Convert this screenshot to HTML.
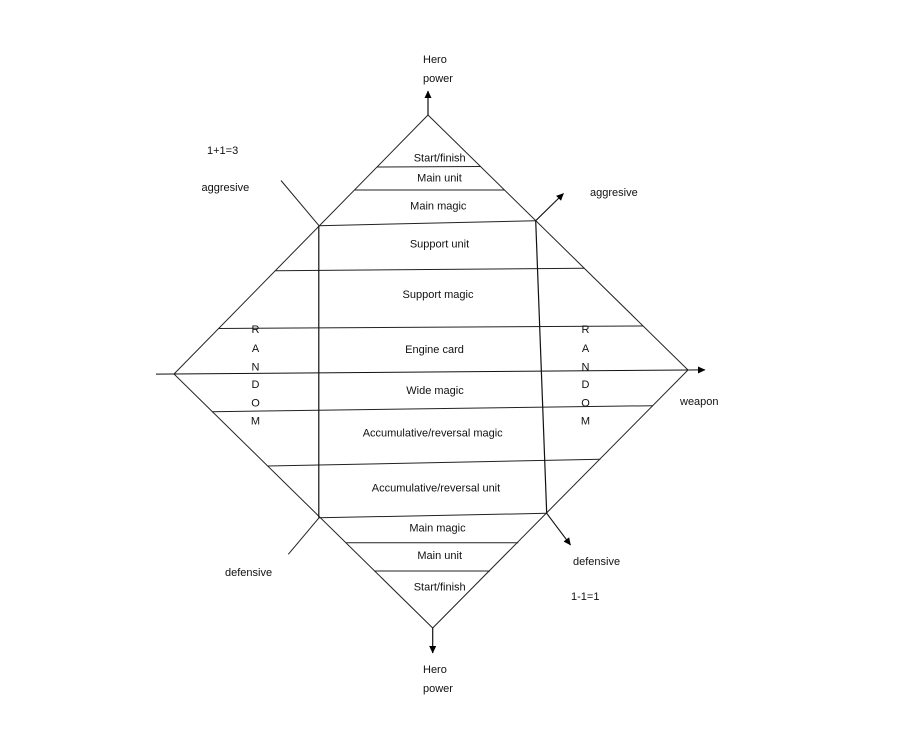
<!DOCTYPE html>
<html>
<head>
<meta charset="utf-8">
<style>
  html, body { margin: 0; padding: 0; background: #fff; }
  svg { display: block; }
  text { font-family: "Liberation Sans", Arial, sans-serif; font-size: 11px; fill: #111; }
</style>
</head>
<body>
<svg width="897" height="745" viewBox="0 0 897 745" xmlns="http://www.w3.org/2000/svg">
  <defs>
    <marker id="ah" markerUnits="userSpaceOnUse" markerWidth="8" markerHeight="8" refX="7" refY="4" orient="auto">
      <path d="M0,0.5 L7.5,4 L0,7.5 z" fill="#000"/>
    </marker>
  </defs>
  <rect x="0" y="0" width="897" height="745" fill="#fff"/>

  <!-- diamond -->
  <polygon points="428,115 688,370 432.7,628 174,374" fill="none" stroke="#222" stroke-width="1"/>

  <!-- horizontal band lines -->
  <g stroke="#222" stroke-width="1" fill="none">
    <line x1="377" y1="167" x2="481" y2="166.5"/>
    <line x1="354.5" y1="190" x2="504.5" y2="190"/>
    <line x1="319" y1="225.7" x2="535.7" y2="220.7"/>
    <line x1="275.3" y1="270.7" x2="584.3" y2="268.3"/>
    <line x1="218.8" y1="328.5" x2="643" y2="326"/>
    <line x1="212" y1="411.7" x2="652.5" y2="405.7"/>
    <line x1="268" y1="466" x2="600.5" y2="459.3"/>
    <line x1="319" y1="517.8" x2="546.7" y2="513.3"/>
    <line x1="345.7" y1="542.7" x2="518.3" y2="542.7"/>
    <line x1="374.3" y1="571" x2="490" y2="571"/>
  </g>

  <!-- inner rectangle verticals -->
  <line x1="318.8" y1="225.7" x2="318.8" y2="517.8" stroke="#111" stroke-width="1.2"/>
  <line x1="535.7" y1="220.7" x2="546.7" y2="513.3" stroke="#111" stroke-width="1.2"/>

  <!-- horizontal axis with arrow -->
  <line x1="156" y1="374.1" x2="705" y2="369.9" stroke="#111" stroke-width="1" marker-end="url(#ah)"/>

  <!-- vertical arrows -->
  <line x1="428" y1="115" x2="428" y2="91" stroke="#111" stroke-width="1.2" marker-end="url(#ah)"/>
  <line x1="432.7" y1="628" x2="432.7" y2="653" stroke="#111" stroke-width="1.2" marker-end="url(#ah)"/>

  <!-- diagonal lines -->
  <line x1="281" y1="180.5" x2="319" y2="225.7" stroke="#222" stroke-width="1"/>
  <line x1="319" y1="517.8" x2="288.3" y2="554.3" stroke="#222" stroke-width="1"/>
  <line x1="535.7" y1="220.7" x2="563.5" y2="193.5" stroke="#111" stroke-width="1.1" marker-end="url(#ah)"/>
  <line x1="546.7" y1="513.3" x2="570.5" y2="545" stroke="#111" stroke-width="1.1" marker-end="url(#ah)"/>

  <!-- center labels -->
  <g text-anchor="middle">
    <text x="439.7" y="161.3">Start/finish</text>
    <text x="439.5" y="181.3">Main unit</text>
    <text x="438.3" y="209.7">Main magic</text>
    <text x="439.5" y="247.3">Support unit</text>
    <text x="438" y="298">Support magic</text>
    <text x="434.5" y="353">Engine card</text>
    <text x="435" y="394">Wide magic</text>
    <text x="432.7" y="436.7">Accumulative/reversal magic</text>
    <text x="436" y="491.3">Accumulative/reversal unit</text>
    <text x="437.5" y="531.7">Main magic</text>
    <text x="439.7" y="559">Main unit</text>
    <text x="439.7" y="590.7">Start/finish</text>
  </g>

  <!-- RANDOM columns -->
  <g text-anchor="middle">
    <text x="255.5" y="333">R</text>
    <text x="255.5" y="352">A</text>
    <text x="255.5" y="370.7">N</text>
    <text x="255.5" y="388">D</text>
    <text x="255.5" y="406.3">O</text>
    <text x="255.5" y="424.7">M</text>
    <text x="585.5" y="333">R</text>
    <text x="585.5" y="352">A</text>
    <text x="585.5" y="370.7">N</text>
    <text x="585.5" y="388">D</text>
    <text x="585.5" y="406.3">O</text>
    <text x="585.5" y="424.7">M</text>
  </g>

  <!-- outer labels -->
  <text x="423" y="63">Hero</text>
  <text x="423" y="82">power</text>
  <text x="423" y="673">Hero</text>
  <text x="423" y="692">power</text>
  <text x="207" y="154">1+1=3</text>
  <text x="201.5" y="191">aggresive</text>
  <text x="590" y="196">aggresive</text>
  <text x="680" y="405">weapon</text>
  <text x="225" y="576">defensive</text>
  <text x="573" y="565">defensive</text>
  <text x="571" y="600">1-1=1</text>
</svg>
</body>
</html>
